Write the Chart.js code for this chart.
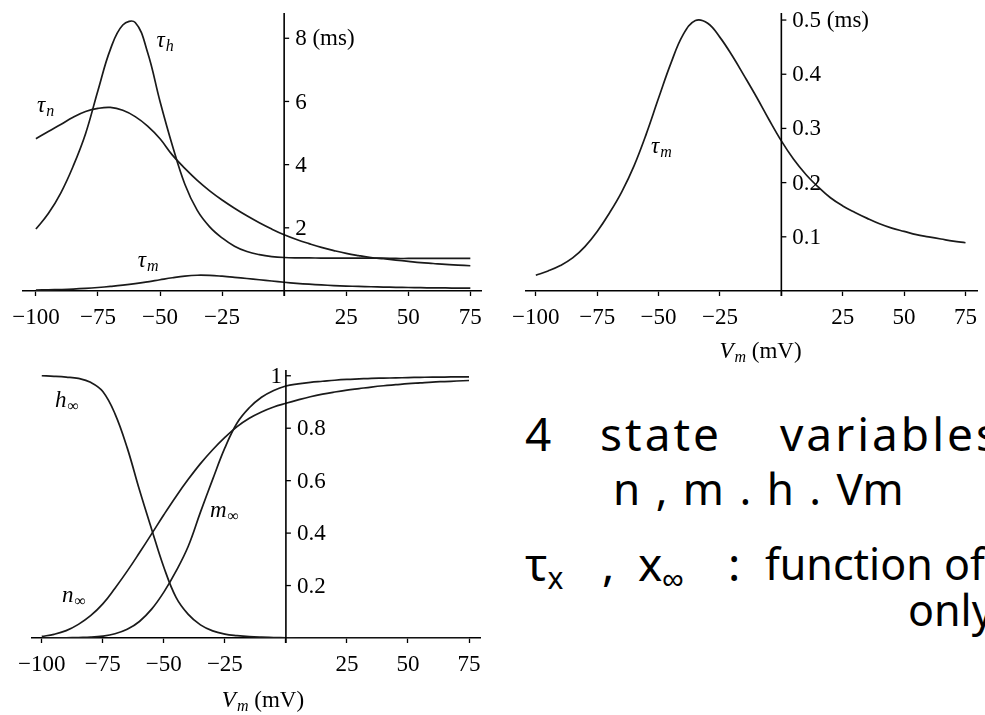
<!DOCTYPE html>
<html>
<head>
<meta charset="utf-8">
<script src="https://cdn.jsdelivr.net/npm/chart.js@4.4.0/dist/chart.umd.min.js"></script>
<style>
  html, body { margin: 0; padding: 0; background: #fff; }
  body { width: 985px; height: 715px; position: relative; overflow: hidden; }
  .plot { position: absolute; }
  .hand { position: absolute; font-family: "Noto Sans", sans-serif; font-size: 46px; color: #000; white-space: nowrap; line-height: 1; }
  .hand sub { font-size: 30px; vertical-align: -8px; }
</style>
</head>
<body>
<div class="plot" style="left:0;top:0"><canvas id="c-tau" width="490" height="340"></canvas></div>
<div class="plot" style="left:490px;top:0"><canvas id="c-taum" width="495" height="370"></canvas></div>
<div class="plot" style="left:0;top:360px"><canvas id="c-inf" width="490" height="355"></canvas></div>

<div class="hand" style="left:525px;top:410px">4</div>
<div class="hand" style="left:600px;top:410px;letter-spacing:3px">state</div>
<div class="hand" style="left:780px;top:410px;letter-spacing:3px">variables</div>
<div class="hand" style="left:613px;top:466px;font-size:44px;word-spacing:4px">n , m . h . Vm</div>
<div class="hand" style="left:525px;top:540px">τ<sub>x</sub></div>
<div class="hand" style="left:602px;top:540px">,</div>
<div class="hand" style="left:638px;top:540px">x<sub>∞</sub></div>
<div class="hand" style="left:728px;top:540px">:</div>
<div class="hand" style="left:765px;top:542px;font-size:43px">function of</div>
<div class="hand" style="left:908px;top:588px;font-size:43px">only</div>

<script>
// membrane potential (mV)
const vm = [-100, -95, -90, -85, -80, -75, -70, -65, -60, -55, -50, -45, -40, -35, -30, -25, -20, -15,
            -10, -5, 0, 5, 10, 15, 20, 25, 30, 35, 40, 45, 50, 55, 60, 65, 70, 75];

// time constants (ms)
const tauH = [1.96, 2.45, 3.10, 3.95, 4.98, 6.35, 7.65, 8.42, 8.50, 7.55, 6.00, 4.60, 3.38, 2.55, 2.03, 1.68, 1.42, 1.25,
              1.15, 1.09, 1.06, 1.05, 1.05, 1.04, 1.04, 1.04, 1.04, 1.04, 1.04, 1.03, 1.03, 1.03, 1.03, 1.03, 1.03, 1.03];
const tauN = [4.82, 5.05, 5.27, 5.50, 5.68, 5.78, 5.81, 5.72, 5.52, 5.22, 4.82, 4.30, 3.88, 3.50, 3.17, 2.88, 2.62, 2.38,
              2.16, 1.96, 1.78, 1.63, 1.50, 1.38, 1.28, 1.19, 1.12, 1.06, 1.02, 0.98, 0.94, 0.90, 0.87, 0.84, 0.82, 0.80];
const tauM = [0.029, 0.037, 0.047, 0.061, 0.082, 0.110, 0.144, 0.183, 0.231, 0.290, 0.356, 0.420, 0.473, 0.499, 0.494, 0.468, 0.434, 0.396,
              0.357, 0.316, 0.277, 0.243, 0.215, 0.192, 0.172, 0.157, 0.145, 0.134, 0.124, 0.116, 0.110, 0.104, 0.100, 0.096, 0.092, 0.089];

// steady state values
const hInf = [1.0, 0.998, 0.995, 0.99, 0.975, 0.94, 0.855, 0.725, 0.565, 0.415, 0.27, 0.155, 0.09, 0.05, 0.027, 0.015, 0.009, 0.005,
              0.003, 0.002, 0.001, 0, 0, 0, 0, 0, 0, 0, 0, 0, 0, 0, 0, 0, 0, 0];
const nInf = [0.006, 0.014, 0.028, 0.052, 0.085, 0.13, 0.19, 0.255, 0.325, 0.397, 0.47, 0.54, 0.605, 0.665, 0.718, 0.765, 0.806, 0.838,
              0.862, 0.881, 0.895, 0.908, 0.92, 0.93, 0.938, 0.945, 0.951, 0.957, 0.962, 0.966, 0.97, 0.973, 0.976, 0.978, 0.98, 0.982];
const mInf = [0, 0, 0.001, 0.002, 0.003, 0.007, 0.016, 0.033, 0.063, 0.11, 0.175, 0.255, 0.35, 0.48, 0.605, 0.725, 0.82, 0.878,
              0.918, 0.944, 0.961, 0.969, 0.975, 0.979, 0.983, 0.986, 0.988, 0.99, 0.991, 0.992, 0.993, 0.994, 0.995, 0.995, 0.996, 0.996];

// axis ticks
const xTicks = [-100, -75, -50, -25, 0, 25, 50, 75];
const xTickLabels = ['−100', '−75', '−50', '−25', '', '25', '50', '75'];
const tauTicks = [2, 4, 6, 8];
const tauTickLabels = ['2', '4', '6', '8 (ms)'];
const taumTicks = [0.1, 0.2, 0.3, 0.4, 0.5];
const taumTickLabels = ['0.1', '0.2', '0.3', '0.4', '0.5 (ms)'];
const infTicks = [0.2, 0.4, 0.6, 0.8, 1];
const infTickLabels = ['0.2', '0.4', '0.6', '0.8', '1'];

const SERIF = '"Liberation Serif", "DejaVu Serif", serif';
Chart.defaults.font.family = SERIF;
Chart.defaults.font.size = 23;
Chart.defaults.color = '#000';

function pts(ys) {
    return vm.map((v, i) => ({ x: v, y: ys[i] }));
}

function drawSub(ctx, px, py, main, sub, subItalic) {
    ctx.textAlign = 'left';
    ctx.textBaseline = 'alphabetic';
    ctx.font = 'italic 23px ' + SERIF;
    ctx.fillText(main, px, py);
    const w = ctx.measureText(main).width;
    ctx.font = (subItalic ? 'italic ' : '') + '16px ' + SERIF;
    ctx.fillText(sub, px + w + 1, py + 4);
}

// y axis drawn through V = 0, labels to its right
const zeroAxis = {
    id: 'zeroAxis',
    afterDraw(chart, args, o) {
        if (!o || !o.ticks) return;
        const { ctx, chartArea } = chart;
        const xs = chart.scales.x, ys = chart.scales.y;
        const x0 = xs.getPixelForValue(0);
        ctx.save();
        ctx.strokeStyle = '#000';
        ctx.fillStyle = '#000';
        ctx.lineWidth = 1.6;
        ctx.beginPath();
        ctx.moveTo(x0, chartArea.top);
        ctx.lineTo(x0, chartArea.bottom + 5);
        ctx.stroke();
        ctx.lineWidth = 1.3;
        o.ticks.forEach((v, i) => {
            const py = ys.getPixelForValue(v);
            ctx.beginPath();
            ctx.moveTo(x0, py);
            ctx.lineTo(x0 + 5, py);
            ctx.stroke();
            ctx.font = '23px ' + SERIF;
            ctx.textBaseline = 'middle';
            if (o.leftTicks && o.leftTicks.includes(v)) {
                ctx.textAlign = 'right';
                ctx.fillText(o.labels[i], x0 - 4, py + 1);
            } else {
                ctx.textAlign = 'left';
                ctx.fillText(o.labels[i], x0 + 11, py + 1);
            }
        });
        (o.curves || []).forEach(c => {
            drawSub(ctx, xs.getPixelForValue(c.x), ys.getPixelForValue(c.y), c.main, c.sub, c.subItalic);
        });
        if (o.title) {
            const cx = xs.getPixelForValue(o.titleAt);
            const by = chartArea.bottom + o.titleDy;
            ctx.font = 'italic 23px ' + SERIF;
            const w1 = ctx.measureText('V').width;
            ctx.font = 'italic 16px ' + SERIF;
            const w2 = ctx.measureText('m').width;
            ctx.font = '23px ' + SERIF;
            const w3 = ctx.measureText(' (mV)').width;
            const left = cx - (w1 + w2 + 1 + w3) / 2;
            drawSub(ctx, left, by, 'V', 'm', true);
            ctx.font = '23px ' + SERIF;
            ctx.textAlign = 'left';
            ctx.fillText(' (mV)', left + w1 + w2 + 1, by);
        }
        ctx.restore();
    }
};
Chart.register(zeroAxis);

function makeChart(id, series, cfg) {
    return new Chart(document.getElementById(id), {
        type: 'line',
        data: {
            datasets: series.map(s => ({
                data: pts(s),
                borderColor: '#1a1a1a',
                borderWidth: 1.7,
                pointRadius: 0,
                fill: false,
                tension: 0.4
            }))
        },
        options: {
            responsive: false,
            animation: false,
            layout: { padding: cfg.padding },
            plugins: {
                legend: { display: false },
                tooltip: { enabled: false },
                zeroAxis: cfg.axis
            },
            scales: {
                x: {
                    type: 'linear',
                    min: cfg.xMin,
                    max: cfg.xMax,
                    afterBuildTicks: (scale) => { scale.ticks = xTicks.map(v => ({ value: v })); },
                    afterFit: (scale) => { scale.height = cfg.xHeight; },
                    border: { color: '#000', width: 1.6 },
                    grid: { drawOnChartArea: false, drawTicks: true, tickLength: 5, tickColor: '#000', tickWidth: 1.3 },
                    ticks: {
                        autoSkip: false,
                        maxRotation: 0,
                        padding: 8,
                        font: { size: 23, lineHeight: 1.2 },
                        callback: (v) => xTickLabels[xTicks.indexOf(v)]
                    }
                },
                y: {
                    display: false,
                    min: 0,
                    max: cfg.yMax
                }
            }
        }
    });
}

makeChart('c-tau', [tauH, tauN, tauM], {
    padding: { left: 23, right: 7, top: 13, bottom: 0 },
    xMin: -105.2, xMax: 79.4, yMax: 8.8, xHeight: 49,
    axis: {
        ticks: tauTicks, labels: tauTickLabels,
        curves: [
            { main: 'τ', sub: 'h', subItalic: true, x: -51.4, y: 7.72 },
            { main: 'τ', sub: 'n', subItalic: true, x: -99.6, y: 5.66 },
            { main: 'τ', sub: 'm', subItalic: true, x: -59, y: 0.76 }
        ]
    }
});

makeChart('c-taum', [tauM], {
    padding: { left: 36, right: 0, top: 13, bottom: 0 },
    xMin: -104, xMax: 79.8, yMax: 0.513, xHeight: 79,
    axis: {
        ticks: taumTicks, labels: taumTickLabels,
        curves: [
            { main: 'τ', sub: 'm', subItalic: true, x: -53.1, y: 0.255 }
        ],
        title: true, titleAt: -8.5, titleDy: 67
    }
});

makeChart('c-inf', [hInf, nInf, mInf], {
    padding: { left: 32, right: 10, top: 10, bottom: 0 },
    xMin: -104, xMax: 79.5, yMax: 1.022, xHeight: 77,
    axis: {
        ticks: infTicks, labels: infTickLabels, leftTicks: [1],
        curves: [
            { main: 'h', sub: '∞', subItalic: false, x: -94.6, y: 0.882 },
            { main: 'n', sub: '∞', subItalic: false, x: -91.7, y: 0.139 },
            { main: 'm', sub: '∞', subItalic: false, x: -31.1, y: 0.463 }
        ],
        title: true, titleAt: -9.4, titleDy: 69
    }
});
</script>
</body>
</html>
